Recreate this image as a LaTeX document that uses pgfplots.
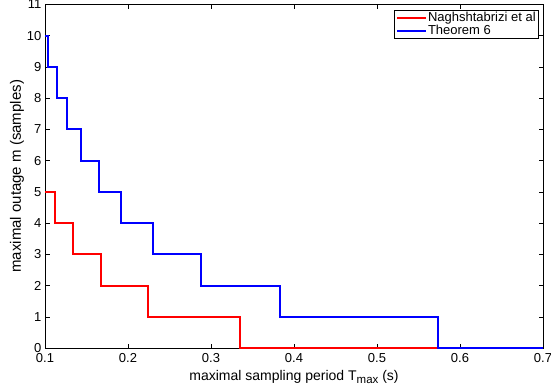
\documentclass[border=0pt]{standalone}
\usepackage{pgfplots}
\pgfplotsset{compat=1.18}
\usepackage{fontspec}
\setmainfont{Liberation Sans}
\begin{document}
\fontsize{12}{14}\selectfont
\begin{tikzpicture}
\begin{axis}[
  scale only axis,
  width=498pt, height=343.5pt,
  xmin=0.1, xmax=0.7, ymin=0, ymax=11,
  xtick={0.1,0.2,0.3,0.4,0.5,0.6,0.7},
  ytick={0,1,2,3,4,5,6,7,8,9,10,11},
  xticklabel style={/pgf/number format/fixed,/pgf/number format/precision=1, yshift=-1.5pt},
  yticklabel style={xshift=0.5pt},
  /pgf/number format/assume math mode=true,
  tick label style={font=\fontsize{13}{15}\selectfont},
  tick align=inside,
  tick style={black, line width=0.5pt},
  major tick length=4.5pt,
  axis line style={line width=0.6pt},
  xlabel={maximal sampling period T\raisebox{-0.4ex}{\fontsize{11.5}{12}\selectfont max} (s)},
  ylabel={maximal outage m (samples)},
  xlabel style={font=\fontsize{14}{16}\selectfont, at={(axis description cs:0.5,0)}, anchor=base, yshift=-32.7pt},
  ylabel style={font=\fontsize{15}{17}\selectfont, at={(axis description cs:-0.0562,0.5)}, anchor=center},
  legend style={at={(1,1)}, anchor=north east, xshift=-4pt, yshift=-5.5pt,
    draw=black, line width=0.6pt, font=\fontsize{13}{14}\selectfont,
    inner xsep=2pt, inner ysep=1pt, row sep=0pt,
    nodes={inner sep=1pt}, cells={anchor=west}},
  legend cell align=left,
  legend image code/.code={\draw[#1, line width=1.6pt] (0pt,0pt) -- (29pt,0pt);},
]
\addplot[const plot, red, line width=2pt] coordinates {
 (0.1,5) (0.112,4) (0.134,3) (0.1677,2) (0.2235,1) (0.3348,0) (0.7,0)};
\addlegendentry{Naghshtabrizi et al}
\addplot[const plot, blue, line width=2pt] coordinates {
 (0.1,10) (0.104,9) (0.115,8) (0.127,7) (0.1437,6) (0.165,5) (0.1918,4) (0.230,3) (0.2876,2) (0.383,1) (0.574,0) (0.7,0)};
\addlegendentry{Theorem 6}
\end{axis}
\pgfresetboundingbox
\path ([xshift=-45pt,yshift=-42pt]current axis.south west) rectangle ([xshift=8pt,yshift=4.5pt]current axis.north east);
\end{tikzpicture}
\end{document}
